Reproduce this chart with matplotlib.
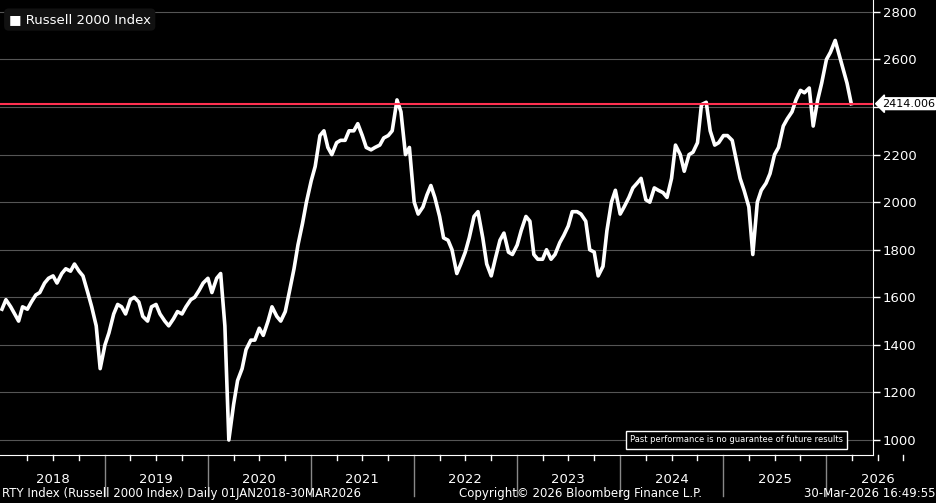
import matplotlib
matplotlib.use("Agg")
import matplotlib.pyplot as plt
import pandas as pd
import numpy as np

dates = list(pd.date_range("2018-01-01", "2026-03-15", freq="SMS")) + [pd.Timestamp("2026-03-30")]
v2018 = [1550,1590,1560,1530,1500,1560,1550,1580,1610,1620,1660,1680,1690,1660,1700,1720,1710,1740,1710,1690,1620,1560,1480,1300]
v2019 = [1400,1450,1530,1570,1560,1530,1590,1600,1580,1520,1500,1560,1570,1530,1500,1480,1510,1540,1530,1560,1590,1600,1630,1660]
v2020 = [1680,1620,1680,1700,1480,1000,1150,1250,1300,1380,1420,1420,1470,1440,1500,1560,1520,1500,1540,1620,1720,1820,1910,2000]
v2021 = [2090,2150,2280,2300,2230,2200,2250,2260,2260,2300,2300,2330,2280,2230,2220,2230,2240,2270,2280,2300,2430,2380,2200,2230]
v2022 = [2000,1950,1980,2030,2070,2020,1940,1850,1840,1800,1700,1740,1790,1850,1940,1960,1850,1740,1690,1760,1840,1870,1790,1780]
v2023 = [1820,1880,1940,1920,1780,1760,1760,1800,1760,1780,1830,1860,1900,1960,1960,1950,1920,1800,1790,1690,1730,1880,2000,2050]
v2024 = [1950,1980,2020,2060,2080,2100,2010,2000,2060,2050,2040,2020,2100,2240,2200,2130,2200,2210,2250,2410,2420,2300,2240,2250]
v2025 = [2280,2280,2260,2180,2100,2050,1980,1780,2000,2050,2080,2120,2200,2230,2320,2350,2380,2430,2470,2460,2480,2320,2430,2500]
v2026 = [2600,2630,2680,2620,2560,2500,2414]
values = v2018+v2019+v2020+v2021+v2022+v2023+v2024+v2025+v2026
last_value = 2414.006
yticks = [1000,1200,1400,1600,1800,2000,2200,2400,2600,2800]
ytick_labels = ["1000","1200","1400","1600","1800","2000","2200","","2600","2800"]
years = list(range(2018, 2027))

fig = plt.figure(figsize=(9.37,5.03), dpi=100, facecolor="black")
ax = fig.add_axes([0, 48/503, 873/937, 455/503], facecolor="black")
ax.plot(dates, values, color="white", lw=2.6, zorder=3)
ax.axhline(last_value, color="#ff3050", lw=1.5, zorder=4)
ax.set_ylim(937, 2850)
ax.set_xlim(pd.Timestamp("2017-12-25"), pd.Timestamp("2026-06-15"))
ax.set_yticks(yticks)
ax.set_yticklabels(ytick_labels)
ax.yaxis.tick_right()
ax.tick_params(axis="y", colors="white", labelsize=9.5, length=5, width=1, direction="out", pad=2)
ax.grid(axis="y", color="#555555", lw=0.8)
for s in ax.spines.values():
    s.set_visible(False)
ax.spines["right"].set_visible(True); ax.spines["right"].set_color("white")
ax.spines["bottom"].set_visible(True); ax.spines["bottom"].set_color("white")
ax.set_xticks([])
for y in years[1:]:
    ax.plot([pd.Timestamp(f"{y}-01-01")]*2, [0, -0.09], transform=ax.get_xaxis_transform(), color="#888888", lw=1, clip_on=False)
for y in years:
    for m in (4,7,10):
        ax.plot([pd.Timestamp(f"{y}-{m:02d}-01")]*2, [0, -0.012], transform=ax.get_xaxis_transform(), color="white", lw=1, clip_on=False)
    ax.text(pd.Timestamp(f"{y}-07-01"), -0.053, str(y), transform=ax.get_xaxis_transform(), color="white", ha="center", va="center", fontsize=9.5)
ax.text(1.01, (last_value-937)/(2850-937), f"{last_value:.3f}", transform=ax.transAxes, color="black", fontsize=8,
        va="center", ha="left", bbox=dict(boxstyle="larrow,pad=0.08", fc="white", ec="white"))
ax.text(0.722, 0.033, "Past performance is no guarantee of future results", transform=ax.transAxes, color="white", fontsize=6,
        ha="left", va="center", bbox=dict(fc="black", ec="white", lw=1, pad=3))
ax.text(0.01, 0.957, "\u25A0 Russell 2000 Index", transform=ax.transAxes, color="white", fontsize=9.5, va="center",
        bbox=dict(boxstyle="round,pad=0.35", fc="#111111", ec="none"))
fig.text(0.002, 0.018, "RTY Index (Russell 2000 Index) Daily 01JAN2018-30MAR2026", color="white", fontsize=8.5, va="center")
fig.text(0.62, 0.018, "Copyright\u00a9 2026 Bloomberg Finance L.P.", color="white", fontsize=8.5, va="center", ha="center")
fig.text(0.998, 0.018, "30-Mar-2026 16:49:55", color="white", fontsize=8.5, va="center", ha="right")
fig.savefig("out.png", dpi=100, facecolor="black")
